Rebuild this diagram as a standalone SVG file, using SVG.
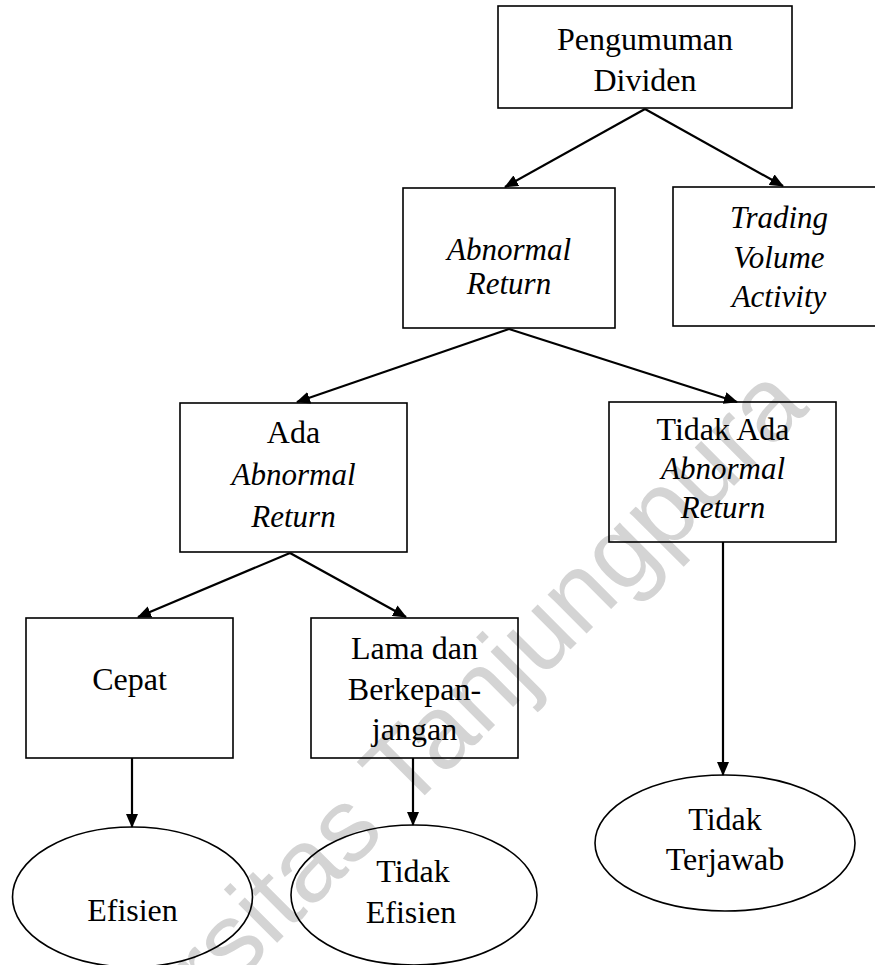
<svg xmlns="http://www.w3.org/2000/svg" width="875" height="965" viewBox="0 0 875 965">
<style>
.box{fill:none;stroke:#000;stroke-width:1.6}
.ell{fill:none;stroke:#000;stroke-width:1.6}
.t{font-family:"Liberation Serif","Times New Roman",serif;font-size:32px;fill:#000;text-anchor:middle}
.i{font-style:italic;font-size:31px}
.c{fill:none;stroke:#000;stroke-width:2.2}
.wm{font-family:"Liberation Sans",Arial,sans-serif;font-size:104px;fill:#d4d4d4}
</style>
<defs>
<marker id="ah" markerUnits="userSpaceOnUse" markerWidth="14" markerHeight="12" refX="13" refY="6" orient="auto">
<path d="M0,0 L14,6 L0,12 z" fill="#000"/>
</marker>
</defs>
<rect width="875" height="965" fill="#fff"/>
<text class="wm" transform="translate(23,1197) rotate(-45)">Universitas Tanjungpura</text>
<g id="connectors">
<line class="c" x1="645" y1="109" x2="505" y2="187" marker-end="url(#ah)"/>
<line class="c" x1="645" y1="109" x2="783" y2="186" marker-end="url(#ah)"/>
<line class="c" x1="509" y1="329" x2="297" y2="402" marker-end="url(#ah)"/>
<line class="c" x1="509" y1="329" x2="737" y2="402" marker-end="url(#ah)"/>
<line class="c" x1="290" y1="553" x2="138" y2="617" marker-end="url(#ah)"/>
<line class="c" x1="290" y1="553" x2="406" y2="617" marker-end="url(#ah)"/>
<line class="c" x1="132" y1="758" x2="132" y2="827" marker-end="url(#ah)"/>
<line class="c" x1="413" y1="758" x2="413" y2="825" marker-end="url(#ah)"/>
<line class="c" x1="723" y1="542" x2="723" y2="775" marker-end="url(#ah)"/>
</g>
<g id="pengumuman">
<rect class="box" x="498" y="6" width="294" height="102"/>
<text class="t" x="645" y="50">Pengumuman</text>
<text class="t" x="645" y="91">Dividen</text>
</g>
<g id="abnormal">
<rect class="box" x="403" y="188" width="212" height="140"/>
<text class="t i" x="509" y="260">Abnormal</text>
<text class="t i" x="509" y="294">Return</text>
</g>
<g id="trading">
<rect class="box" x="673" y="187" width="212" height="139"/>
<text class="t i" x="779" y="228">Trading</text>
<text class="t i" x="779" y="268">Volume</text>
<text class="t i" x="779" y="307">Activity</text>
</g>
<g id="ada">
<rect class="box" x="180" y="403" width="227" height="149"/>
<text class="t" x="293.5" y="443">Ada</text>
<text class="t i" x="293.5" y="485">Abnormal</text>
<text class="t i" x="293.5" y="527">Return</text>
</g>
<g id="tidakada">
<rect class="box" x="609" y="402" width="227" height="140"/>
<text class="t" x="723" y="440">Tidak Ada</text>
<text class="t i" x="723" y="479">Abnormal</text>
<text class="t i" x="723" y="518">Return</text>
</g>
<g id="cepat">
<rect class="box" x="26" y="618" width="207" height="140"/>
<text class="t" x="129.5" y="690">Cepat</text>
</g>
<g id="lama">
<rect class="box" x="311" y="618" width="207" height="140"/>
<text class="t" x="414.5" y="659">Lama dan</text>
<text class="t" x="414.5" y="700">Berkepan-</text>
<text class="t" x="414.5" y="740">jangan</text>
</g>
<g id="efisien">
<ellipse class="ell" cx="132.5" cy="897" rx="120" ry="70"/>
<text class="t" x="132.5" y="921">Efisien</text>
</g>
<g id="tidakefisien">
<ellipse class="ell" cx="414" cy="895" rx="123" ry="70"/>
<text class="t" x="413" y="882">Tidak</text>
<text class="t" x="411" y="923">Efisien</text>
</g>
<g id="terjawab">
<ellipse class="ell" cx="725" cy="843" rx="130" ry="68"/>
<text class="t" x="725" y="830">Tidak</text>
<text class="t" x="725" y="870">Terjawab</text>
</g>
</svg>
